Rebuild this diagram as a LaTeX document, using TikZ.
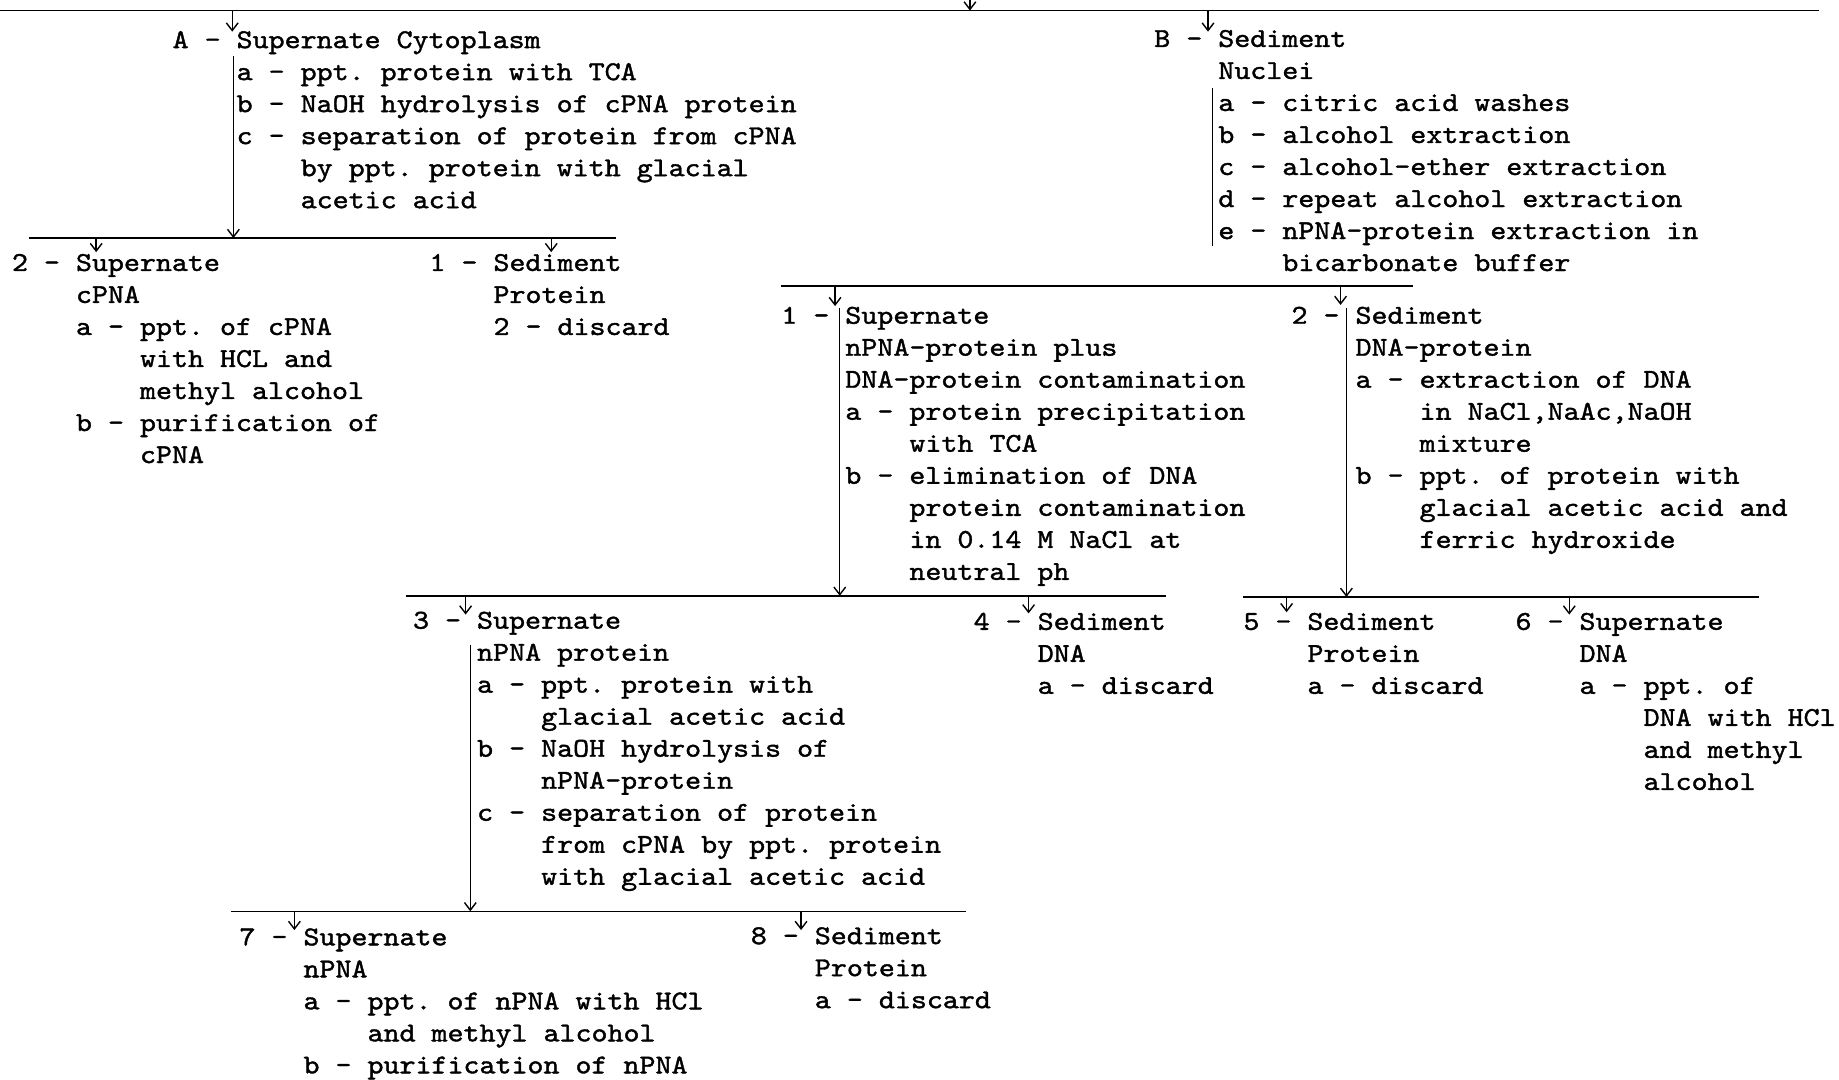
\documentclass[tikz,border=0pt]{standalone}
\usepackage{fontspec}
\usetikzlibrary{arrows.meta}
\newfontfamily\tw{lmmono10-regular.otf}[FakeStretch=1.12,FakeBold=1.4]
\newcommand\ind{\hspace*{54.6pt}}
\tikzset{
  txt/.style={anchor=base west, inner sep=0pt, font={\tw\fontsize{23.2pt}{27.3pt}\selectfont\frenchspacing}},
  ln/.style={line width=1.3pt},
  arr/.style={line width=1.2pt, -{Straight Barb[length=6.5pt,width=10pt]}}
}
\begin{document}
\begin{tikzpicture}[x=1pt,y=-1pt]
\useasboundingbox (0,0) rectangle (1568,920);
% ---------- text blocks ----------
\node[txt] (A) at (147,41) {\begin{tabular}[t]{@{}l@{}}
A - Supernate Cytoplasm\\
\ind a - ppt. protein with TCA\\
\ind b - NaOH hydrolysis of cPNA protein\\
\ind c - separation of protein from cPNA\\
\ind\ind by ppt. protein with glacial\\
\ind\ind acetic acid
\end{tabular}};
\node[txt] (B) at (984,40) {\begin{tabular}[t]{@{}l@{}}
B - Sediment\\
\ind Nuclei\\
\ind a - citric acid washes\\
\ind b - alcohol extraction\\
\ind c - alcohol-ether extraction\\
\ind d - repeat alcohol extraction\\
\ind e - nPNA-protein extraction in\\
\ind\ind bicarbonate buffer
\end{tabular}};
\node[txt] (S2) at (10,231) {\begin{tabular}[t]{@{}l@{}}
2 - Supernate\\
\ind cPNA\\
\ind a - ppt. of cPNA\\
\ind\ind with HCL and\\
\ind\ind methyl alcohol\\
\ind b - purification of\\
\ind\ind cPNA
\end{tabular}};
\node[txt] (S1) at (366,231) {\begin{tabular}[t]{@{}l@{}}
1 - Sediment\\
\ind Protein\\
\ind 2 - discard
\end{tabular}};
\node[txt] (N1) at (666,276) {\begin{tabular}[t]{@{}l@{}}
1 - Supernate\\
\ind nPNA-protein plus\\
\ind DNA-protein contamination\\
\ind a - protein precipitation\\
\ind\ind with TCA\\
\ind b - elimination of DNA\\
\ind\ind protein contamination\\
\ind\ind in 0.14 M NaCl at\\
\ind\ind neutral ph
\end{tabular}};
\node[txt] (N2) at (1101,276) {\begin{tabular}[t]{@{}l@{}}
2 - Sediment\\
\ind DNA-protein\\
\ind a - extraction of DNA\\
\ind\ind in NaCl,NaAc,NaOH\\
\ind\ind mixture\\
\ind b - ppt. of protein with\\
\ind\ind glacial acetic acid and\\
\ind\ind ferric hydroxide
\end{tabular}};
\node[txt] (N3) at (352,536) {\begin{tabular}[t]{@{}l@{}}
3 - Supernate\\
\ind nPNA protein\\
\ind a - ppt. protein with\\
\ind\ind glacial acetic acid\\
\ind b - NaOH hydrolysis of\\
\ind\ind nPNA-protein\\
\ind c - separation of protein\\
\ind\ind from cPNA by ppt. protein\\
\ind\ind with glacial acetic acid
\end{tabular}};
\node[txt] (N4) at (830,537) {\begin{tabular}[t]{@{}l@{}}
4 - Sediment\\
\ind DNA\\
\ind a - discard
\end{tabular}};
\node[txt] (N5) at (1060,537) {\begin{tabular}[t]{@{}l@{}}
5 - Sediment\\
\ind Protein\\
\ind a - discard
\end{tabular}};
\node[txt] (N6) at (1292,537) {\begin{tabular}[t]{@{}l@{}}
6 - Supernate\\
\ind DNA\\
\ind a - ppt. of\\
\ind\ind DNA with HCl\\
\ind\ind and methyl\\
\ind\ind alcohol
\end{tabular}};
\node[txt] (N7) at (204,806) {\begin{tabular}[t]{@{}l@{}}
7 - Supernate\\
\ind nPNA\\
\ind a - ppt. of nPNA with HCl\\
\ind\ind and methyl alcohol\\
\ind b - purification of nPNA
\end{tabular}};
\node[txt] (N8) at (640,805) {\begin{tabular}[t]{@{}l@{}}
8 - Sediment\\
\ind Protein\\
\ind a - discard
\end{tabular}};
% ---------- coordinates ----------
\coordinate (t0) at (827,0);   \coordinate (t1) at (827,9);
\coordinate (L0a) at (0,9);    \coordinate (L0b) at (1551,9);
\coordinate (a0) at (198,9);   \coordinate (a1) at (198,27);
\coordinate (b0) at (1030,9);  \coordinate (b1) at (1030,27);
\coordinate (ab0) at (199,48); \coordinate (ab1) at (199,203);
\coordinate (L1a) at (25,203); \coordinate (L1b) at (525,203);
\coordinate (s20) at (82,203); \coordinate (s21) at (82,215);
\coordinate (s10) at (470,203);\coordinate (s11) at (470,215);
\coordinate (bb0) at (1034,75);\coordinate (bb1) at (1034,210);
\coordinate (L2a) at (666,244);\coordinate (L2b) at (1205,244);
\coordinate (n10) at (712,244);\coordinate (n11) at (712,261);
\coordinate (m10) at (716,263);\coordinate (m11) at (716,508);
\coordinate (n20) at (1143,244);\coordinate (n21) at (1143,260);
\coordinate (m20) at (1148,263);\coordinate (m21) at (1148,509);
\coordinate (L3a) at (346,508);\coordinate (L3b) at (994,508);
\coordinate (L4a) at (1060,509);\coordinate (L4b) at (1500,509);
\coordinate (n30) at (397,508);\coordinate (n31) at (397,524);
\coordinate (n40) at (877,508);\coordinate (n41) at (877,523);
\coordinate (n50) at (1097,509);\coordinate (n51) at (1097,522);
\coordinate (n60) at (1338,509);\coordinate (n61) at (1338,524);
\coordinate (m30) at (401,550);\coordinate (m31) at (401,777);
\coordinate (L5a) at (197,777);\coordinate (L5b) at (824,777);
\coordinate (n70) at (251,777);\coordinate (n71) at (251,793);
\coordinate (n80) at (683,777);\coordinate (n81) at (683,793);
% ---------- lines ----------
\draw[ln] (L0a) -- (L0b);
\draw[ln] (L1a) -- (L1b);
\draw[ln] (L2a) -- (L2b);
\draw[ln] (L3a) -- (L3b);
\draw[ln] (L4a) -- (L4b);
\draw[ln] (L5a) -- (L5b);
\draw[ln] (bb0) -- (bb1);
% ---------- arrows ----------
\draw[arr] (t0) -- (t1);
\draw[arr] (a0) -- (a1);
\draw[arr] (b0) -- (b1);
\draw[arr] (ab0) -- (ab1);
\draw[arr] (s20) -- (s21);
\draw[arr] (s10) -- (s11);
\draw[arr] (n10) -- (n11);
\draw[arr] (m10) -- (m11);
\draw[arr] (n20) -- (n21);
\draw[arr] (m20) -- (m21);
\draw[arr] (n30) -- (n31);
\draw[arr] (n40) -- (n41);
\draw[arr] (n50) -- (n51);
\draw[arr] (n60) -- (n61);
\draw[arr] (m30) -- (m31);
\draw[arr] (n70) -- (n71);
\draw[arr] (n80) -- (n81);
\end{tikzpicture}
\end{document}
